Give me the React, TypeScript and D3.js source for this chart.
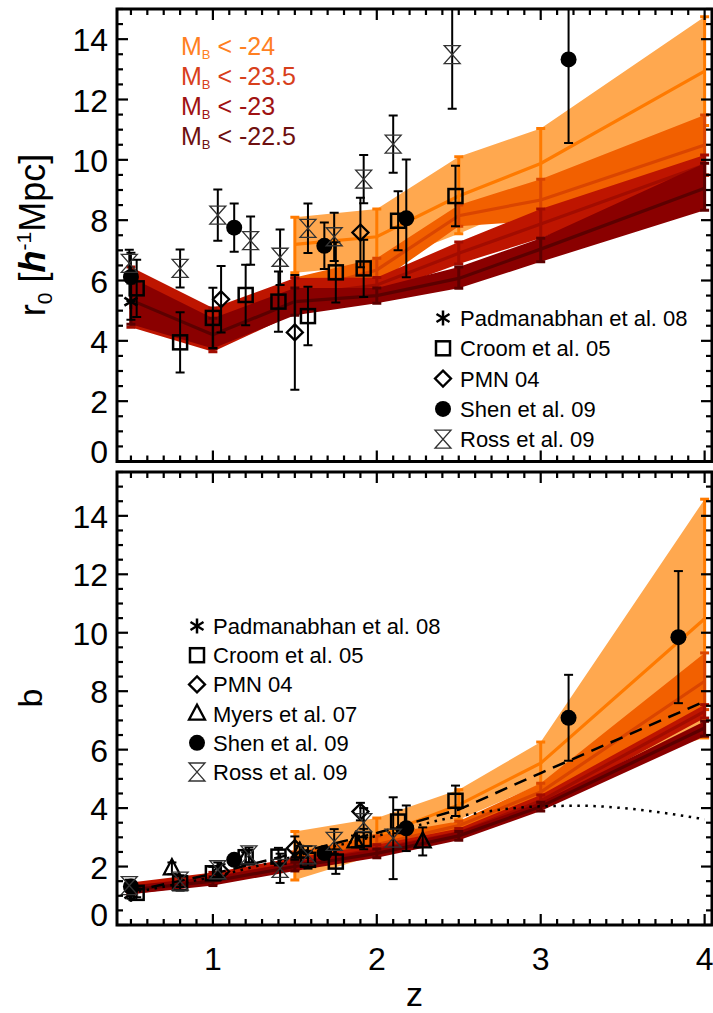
import React from "react";
import * as d3 from "d3";

const W = 713;
const H = 1013;
const FONT = "'Liberation Sans', Arial, Helvetica, sans-serif";

// Luminosity thresholds of the model predictions (brightest first)
const magCuts = ["-24", "-23.5", "-23", "-22.5"];
const fillColors = ["#FFA84F", "#F26000", "#BE1500", "#8A0000"];
const lineColors = ["#FF7A00", "#DA4500", "#A20C00", "#5C0000"];
const textColors = ["#FF8022", "#D8401C", "#A01212", "#6E1010"];

// Redshift nodes of the model predictions
const zBright = [1.5, 2.0, 2.5, 3.0, 4.0];
const zFaint = [0.5, 1.0, 1.5, 2.0, 2.5, 3.0, 4.0];

// Correlation length r0 [h^-1 Mpc]: median, lower, upper
const r0Mid24 = [7.2, 7.45, 8.8, 9.88, 12.94];
const r0Lo24 = [6.26, 6.5, 7.55, 8.72, 11.14];
const r0Hi24 = [8.1, 8.37, 10.1, 11.04, 14.74];
const r0Mid235 = [5.6, 6.35, 8.15, 8.67, 10.49];
const r0Lo235 = [5.1, 5.9, 7.8, 7.98, 9.49];
const r0Hi235 = [6.1, 6.74, 8.5, 9.36, 11.49];
const r0Mid23 = [5.45, 4.4, 5.5, 5.85, 6.9, 7.87, 9.83];
const r0Lo23 = [4.45, 3.64, 4.9, 5.55, 6.55, 7.4, 9.5];
const r0Hi23 = [6.45, 5.09, 6.08, 6.1, 7.28, 8.37, 10.16];
const r0Mid225 = [5.35, 4.2, 5.3, 5.5, 6.07, 7.04, 9.06];
const r0Lo225 = [4.55, 3.75, 4.85, 5.25, 5.74, 6.62, 8.33];
const r0Hi225 = [6.1, 4.75, 5.75, 5.75, 6.45, 7.4, 9.89];

// Bias b: median, lower, upper
const bMid24 = [2.37, 3.03, 4.11, 5.54, 10.48];
const bLo24 = [1.54, 2.4, 3.6, 4.82, 6.4];
const bHi24 = [3.2, 3.66, 4.63, 6.26, 14.57];
const bMid235 = [2.2, 2.75, 3.4, 4.55, 8.34];
const bLo235 = [1.9, 2.45, 3.25, 4.25, 7.37];
const bHi235 = [2.5, 3.05, 3.55, 4.85, 9.31];
const bMid23 = [1.25, 1.6, 2.1, 2.6, 3.15, 4.25, 7.31];
const bLo23 = [1.05, 1.4, 1.9, 2.45, 3.0, 4.05, 7.08];
const bHi23 = [1.45, 1.8, 2.3, 2.75, 3.3, 4.45, 7.54];
const bMid225 = [1.2, 1.5, 2.0, 2.45, 3.05, 4.05, 6.74];
const bLo225 = [1.05, 1.35, 1.85, 2.3, 2.9, 3.9, 6.46];
const bHi225 = [1.35, 1.65, 2.15, 2.6, 3.2, 4.2, 6.97];

// Reference bias curves
const dashedZ = [0.5, 1.0, 1.5, 2.0, 2.5, 3.0, 4.0];
const dashedB = [1.15, 1.75, 2.45, 3.15, 3.95, 5.2, 7.65];
const dottedZ = [0.5, 1.0, 1.5, 2.0, 2.5, 3.0, 3.25, 3.5, 4.0];
const dottedB = [1.1, 1.65, 2.35, 3.05, 3.72, 4.06, 4.08, 4.0, 3.62];

// Observations: [z, value, error]
const padmanabhanR0 = [[0.5, 5.3, 0.6]];
const croomR0 = [
  [0.535, 5.74, 0.95], [0.8, 3.95, 1.0], [1.0, 4.76, 1.0], [1.2, 5.52, 1.0],
  [1.4, 5.3, 1.0], [1.58, 4.82, 0.97], [1.75, 6.27, 1.0], [1.92, 6.4, 0.95],
  [2.13, 7.98, 0.98], [2.48, 8.8, 1.0],
];
const pmnR0 = [[1.05, 5.38, 1.1], [1.5, 4.28, 1.9], [1.9, 7.59, 1.15]];
const shenR0 = [
  [0.5, 6.12, 0.8], [1.13, 7.75, 0.8], [1.68, 7.15, 0.77], [2.18, 8.06, 1.95],
  [3.17, 13.33, 2.77],
];
const rossR0 = [
  [0.49, 6.57, 0.45], [0.8, 6.4, 0.63], [1.03, 8.17, 0.85], [1.23, 7.32, 0.8],
  [1.41, 6.77, 0.92], [1.58, 7.73, 0.82], [1.74, 7.45, 0.8], [1.92, 9.36, 0.8],
  [2.1, 10.52, 0.95], [2.46, 13.49, 1.8],
];

const padmanabhanB = [[0.5, 1.05, 0.15]];
const croomB = [
  [0.535, 1.1, 0.15], [0.8, 1.43, 0.25], [1.0, 1.77, 0.22], [1.2, 2.32, 0.25],
  [1.4, 2.34, 0.3], [1.58, 2.23, 0.3], [1.75, 2.17, 0.42], [1.92, 2.94, 0.35],
  [2.13, 3.54, 0.4], [2.48, 4.25, 0.52],
];
const pmnB = [[1.05, 1.83, 0.25], [1.5, 2.63, 0.4], [1.9, 3.88, 0.3]];
const myersB = [
  [0.75, 1.94, 0.2], [1.2, 2.29, 0.2], [1.53, 2.51, 0.2], [1.87, 2.86, 0.2],
  [2.28, 2.86, 0.48],
];
const shenB = [
  [0.5, 1.32, 0.1], [1.13, 2.23, 0.12], [1.68, 2.46, 0.15], [2.18, 3.31, 0.78],
  [3.17, 7.09, 1.47], [3.84, 9.85, 2.26],
];
const rossB = [
  [0.49, 1.35, 0.2], [0.8, 1.5, 0.2], [1.03, 1.89, 0.25], [1.22, 2.4, 0.25],
  [1.41, 1.94, 0.5], [1.58, 2.4, 0.3], [1.74, 2.86, 0.42], [1.92, 3.5, 0.5],
  [2.1, 2.97, 1.4],
];

const legendTop = ["Padmanabhan et al. 08", "Croom et al. 05", "PMN 04", "Shen et al. 09", "Ross et al. 09"];
const legendTopKeys = ["asterisk", "square", "diamond", "circle", "hourglass"];
const legendBottom = ["Padmanabhan et al. 08", "Croom et al. 05", "PMN 04", "Myers et al. 07", "Shen et al. 09", "Ross et al. 09"];
const legendBottomKeys = ["asterisk", "square", "diamond", "triangle", "circle", "hourglass"];

const xMajor = [1, 2, 3, 4];
const yMajor = [0, 2, 4, 6, 8, 10, 12, 14];

// Layout
const LEFT = 117;
const RIGHT = 712;
const x = d3.scaleLinear().domain([0.415, 4.045]).range([LEFT, RIGHT]);
const yTop = d3.scaleLinear().domain([0, 15]).range([461.5, 9]);
const yBot = d3.scaleLinear().domain([0, 15.5]).range([925, 472]);

function Marker({ kind, cx, cy }: { kind: string; cx: number; cy: number }) {
  switch (kind) {
    case "square":
      return <rect x={cx - 7} y={cy - 7} width={14} height={14} fill="none" stroke="#000" strokeWidth={2.5} />;
    case "diamond":
      return <path d={`M${cx},${cy - 8}L${cx + 8},${cy}L${cx},${cy + 8}L${cx - 8},${cy}Z`} fill="none" stroke="#000" strokeWidth={2.3} />;
    case "circle":
      return <circle cx={cx} cy={cy} r={8} fill="#000" />;
    case "triangle":
      return <path d={`M${cx - 8},${cy + 6}L${cx + 8},${cy + 6}L${cx},${cy - 9}Z`} fill="none" stroke="#000" strokeWidth={2.3} strokeLinejoin="miter" />;
    case "asterisk":
      return (
        <g stroke="#000" strokeWidth={2.5}>
          <line x1={cx} y1={cy - 7.5} x2={cx} y2={cy + 7.5} />
          <line x1={cx - 6.5} y1={cy - 4} x2={cx + 6.5} y2={cy + 4} />
          <line x1={cx - 6.5} y1={cy + 4} x2={cx + 6.5} y2={cy - 4} />
        </g>
      );
    case "hourglass":
      return (
        <path
          d={`M${cx - 8},${cy - 9}L${cx + 8},${cy - 9}L${cx - 8},${cy + 9}L${cx + 8},${cy + 9}Z`}
          fill="none"
          stroke="#333"
          strokeWidth={1.3}
        />
      );
    default:
      return null;
  }
}

type Band = { z: number[]; mid: number[]; lo: number[]; hi: number[]; i: number };

function ModelBand({ band, y }: { band: Band; y: d3.ScaleLinear<number, number> }) {
  const pts = band.z.map((z, k) => ({ z, mid: band.mid[k], lo: band.lo[k], hi: band.hi[k] }));
  const area = d3
    .area<any>()
    .x((d) => x(d.z))
    .y0((d) => y(d.lo))
    .y1((d) => y(d.hi));
  const line = d3
    .line<any>()
    .x((d) => x(d.z))
    .y((d) => y(d.mid));
  const col = lineColors[band.i];
  return (
    <g>
      <path d={area(pts) || ""} fill={fillColors[band.i]} stroke="none" />
      <path d={line(pts) || ""} fill="none" stroke={col} strokeWidth={3.2} />
      {pts.map((p, k) => (
        <g key={k} stroke={col} strokeWidth={3}>
          <line x1={x(p.z)} x2={x(p.z)} y1={y(p.lo)} y2={y(p.hi)} />
          <line x1={x(p.z) - 4.5} x2={x(p.z) + 4.5} y1={y(p.lo)} y2={y(p.lo)} />
          <line x1={x(p.z) - 4.5} x2={x(p.z) + 4.5} y1={y(p.hi)} y2={y(p.hi)} />
        </g>
      ))}
    </g>
  );
}

function DataSet({ data, kind, y }: { data: number[][]; kind: string; y: d3.ScaleLinear<number, number> }) {
  return (
    <g>
      {data.map(([z, v, e], k) => (
        <g key={"e" + k} stroke="#000" strokeWidth={2}>
          <line x1={x(z)} x2={x(z)} y1={y(v - e)} y2={y(v + e)} />
          <line x1={x(z) - 4.5} x2={x(z) + 4.5} y1={y(v - e)} y2={y(v - e)} />
          <line x1={x(z) - 4.5} x2={x(z) + 4.5} y1={y(v + e)} y2={y(v + e)} />
        </g>
      ))}
      {data.map(([z, v], k) => (
        <Marker key={"m" + k} kind={kind} cx={x(z)} cy={y(v)} />
      ))}
    </g>
  );
}

function Frame({ y, showXLabels }: { y: d3.ScaleLinear<number, number>; showXLabels: boolean }) {
  const [yBottom, yTopPx] = y.range();
  const yMax = y.domain()[1];
  const xTicks = d3.range(5, 41).map((v) => v / 10);
  const yTicks = d3.range(0, Math.floor(yMax * 2) + 1).map((v) => v / 2);
  return (
    <g>
      {xTicks.map((t) => {
        const major = Math.abs(t - Math.round(t)) < 1e-6;
        const len = major ? 11 : 6;
        const px = x(t);
        return (
          <g key={"x" + t} stroke="#000" strokeWidth={2.2}>
            <line x1={px} x2={px} y1={yBottom} y2={yBottom - len} />
            <line x1={px} x2={px} y1={yTopPx} y2={yTopPx + len} />
          </g>
        );
      })}
      {yTicks.map((t) => {
        const major = t % 2 === 0;
        const len = major ? 11 : 6;
        const py = y(t);
        return (
          <g key={"y" + t} stroke="#000" strokeWidth={2.2}>
            <line x1={LEFT} x2={LEFT + len} y1={py} y2={py} />
            <line x1={RIGHT} x2={RIGHT - len} y1={py} y2={py} />
          </g>
        );
      })}
      <rect x={LEFT} y={yTopPx} width={RIGHT - LEFT} height={yBottom - yTopPx} fill="none" stroke="#000" strokeWidth={3} />
      {yMajor.map((t) => (
        <text
          key={"yl" + t}
          x={108}
          y={t === 0 ? y(t) + 1 : y(t) + 12}
          textAnchor="end"
          fontSize={32}
          fontFamily={FONT}
        >
          {t}
        </text>
      ))}
      {showXLabels &&
        xMajor.map((t) => (
          <text key={"xl" + t} x={x(t)} y={970} textAnchor="middle" fontSize={32} fontFamily={FONT}>
            {t}
          </text>
        ))}
    </g>
  );
}

function Legend({ names, keys, sx, tx, y0, dy }: { names: string[]; keys: string[]; sx: number; tx: number; y0: number; dy: number }) {
  return (
    <g>
      {names.map((n, k) => (
        <g key={n}>
          <Marker kind={keys[k]} cx={sx} cy={y0 + k * dy} />
          <text x={tx} y={y0 + k * dy + 8} fontSize={22} fontFamily={FONT}>
            {n}
          </text>
        </g>
      ))}
    </g>
  );
}

export default function App() {
  const bandsTop: Band[] = [
    { z: zBright, mid: r0Mid24, lo: r0Lo24, hi: r0Hi24, i: 0 },
    { z: zBright, mid: r0Mid235, lo: r0Lo235, hi: r0Hi235, i: 1 },
    { z: zFaint, mid: r0Mid23, lo: r0Lo23, hi: r0Hi23, i: 2 },
    { z: zFaint, mid: r0Mid225, lo: r0Lo225, hi: r0Hi225, i: 3 },
  ];
  const bandsBot: Band[] = [
    { z: zBright, mid: bMid24, lo: bLo24, hi: bHi24, i: 0 },
    { z: zBright, mid: bMid235, lo: bLo235, hi: bHi235, i: 1 },
    { z: zFaint, mid: bMid23, lo: bLo23, hi: bHi23, i: 2 },
    { z: zFaint, mid: bMid225, lo: bLo225, hi: bHi225, i: 3 },
  ];
  const dashed = d3
    .line<number>()
    .x((_, k) => x(dashedZ[k]))
    .y((d) => yBot(d));
  const dotted = d3
    .line<number>()
    .x((_, k) => x(dottedZ[k]))
    .y((d) => yBot(d))
    .curve(d3.curveMonotoneX);

  return (
    <svg
      width={W}
      height={H}
      viewBox={`0 0 ${W} ${H}`}
      style={{ position: "absolute", left: 0, top: 0, background: "#fff" }}
    >
      <defs>
        <clipPath id="clipTop">
          <rect x={LEFT} y={9} width={RIGHT - LEFT} height={461.5 - 9} />
        </clipPath>
        <clipPath id="clipBot">
          <rect x={LEFT} y={472} width={RIGHT - LEFT} height={925 - 472} />
        </clipPath>
      </defs>
      <rect width={W} height={H} fill="#fff" />

      {/* upper panel: correlation length */}
      <g clipPath="url(#clipTop)">
        {bandsTop.map((b) => (
          <ModelBand key={b.i} band={b} y={yTop} />
        ))}
        <DataSet data={padmanabhanR0} kind="asterisk" y={yTop} />
        <DataSet data={croomR0} kind="square" y={yTop} />
        <DataSet data={pmnR0} kind="diamond" y={yTop} />
        <DataSet data={shenR0} kind="circle" y={yTop} />
        <DataSet data={rossR0} kind="hourglass" y={yTop} />
      </g>
      <Legend names={legendTop} keys={legendTopKeys} sx={443} tx={460} y0={318} dy={30.3} />
      {magCuts.map((m, k) => (
        <text key={m} x={181} y={55 + k * 30} fontSize={25} fontFamily={FONT} fill={textColors[k]}>
          M<tspan fontSize={13} dy={4}>B</tspan>
          <tspan dy={-4}>{` < ${m}`}</tspan>
        </text>
      ))}
      <Frame y={yTop} showXLabels={false} />

      {/* lower panel: bias */}
      <g clipPath="url(#clipBot)">
        {bandsBot.map((b) => (
          <ModelBand key={b.i} band={b} y={yBot} />
        ))}
        <path d={dashed(dashedB) || ""} fill="none" stroke="#000" strokeWidth={2.5} strokeDasharray="13 8" />
        <path d={dotted(dottedB) || ""} fill="none" stroke="#000" strokeWidth={2.5} strokeDasharray="2.5 5.5" />
        <DataSet data={padmanabhanB} kind="asterisk" y={yBot} />
        <DataSet data={croomB} kind="square" y={yBot} />
        <DataSet data={pmnB} kind="diamond" y={yBot} />
        <DataSet data={myersB} kind="triangle" y={yBot} />
        <DataSet data={shenB} kind="circle" y={yBot} />
        <DataSet data={rossB} kind="hourglass" y={yBot} />
      </g>
      <Legend names={legendBottom} keys={legendBottomKeys} sx={197} tx={213} y0={626} dy={29.2} />
      <Frame y={yBot} showXLabels={true} />

      {/* axis titles */}
      <text transform="translate(45,235) rotate(-90)" textAnchor="middle" fontSize={36} fontFamily={FONT}>
        r<tspan fontSize={21} dy={7}>0</tspan>
        <tspan dy={-7}>{" ["}</tspan>
        <tspan fontStyle="italic" fontWeight="bold">h</tspan>
        <tspan fontSize={21} dy={-14}>-1</tspan>
        <tspan dy={14}>Mpc]</tspan>
      </text>
      <text transform="translate(42,698) rotate(-90)" textAnchor="middle" fontSize={34} fontFamily={FONT}>
        b
      </text>
      <text x={414.5} y={1006} textAnchor="middle" fontSize={34} fontFamily={FONT}>
        z
      </text>
    </svg>
  );
}
